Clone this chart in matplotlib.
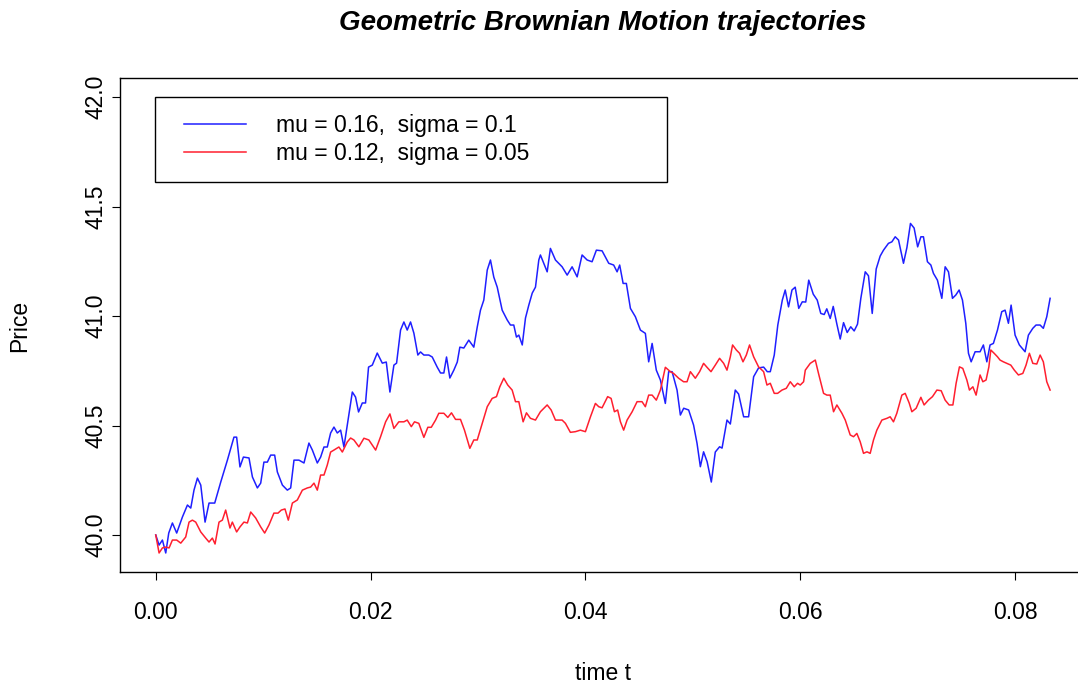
import numpy as np
import matplotlib
matplotlib.use("Agg")
import matplotlib.pyplot as plt
from matplotlib.lines import Line2D
from matplotlib.legend_handler import HandlerLine2D
from matplotlib.ticker import FormatStrFormatter

plt.rcParams['font.family'] = ['Liberation Sans', 'DejaVu Sans']

# trajectory 1: mu = 0.16, sigma = 0.1
t_blue = [0, 0.00031, 0.00062, 0.00093, 0.00121, 0.00155, 0.00195, 0.00248, 0.00295, 0.00326,
          0.00356, 0.00388, 0.00419, 0.00459, 0.00496, 0.00549, 0.00605, 0.00667, 0.00728, 0.00753,
          0.00784, 0.00816, 0.00868, 0.00900, 0.00946, 0.00977, 0.01007, 0.01039, 0.01070, 0.01107,
          0.01132, 0.01179, 0.01225, 0.01256, 0.01287, 0.01333, 0.01380, 0.01426, 0.01458, 0.01504,
          0.01535, 0.01566, 0.01597, 0.01628, 0.01659, 0.01690, 0.01721, 0.01752, 0.01830, 0.01860,
          0.01888, 0.01923, 0.01953, 0.01981, 0.02016, 0.02062, 0.02109, 0.02146, 0.02180, 0.02217,
          0.02242, 0.02279, 0.02310, 0.02341, 0.02372, 0.02403, 0.02440, 0.02465, 0.02496, 0.02542,
          0.02574, 0.02620, 0.02651, 0.02682, 0.02707, 0.02738, 0.02775, 0.02807, 0.02831, 0.02868,
          0.02914, 0.02961, 0.02993, 0.03023, 0.03054, 0.03086, 0.03116, 0.03147, 0.03179, 0.03225,
          0.03272, 0.03302, 0.03333, 0.03358, 0.03380, 0.03412, 0.03442, 0.03473, 0.03505, 0.03535,
          0.03566, 0.03581, 0.03612, 0.03644, 0.03674, 0.03721, 0.03783, 0.03830, 0.03876, 0.03923,
          0.03969, 0.04016, 0.04062, 0.04102, 0.04155, 0.04217, 0.04263, 0.04295, 0.04319, 0.04351,
          0.04381, 0.04419, 0.04465, 0.04512, 0.04558, 0.04589, 0.04621, 0.04660, 0.04698, 0.04744,
          0.04775, 0.04807, 0.04853, 0.04884, 0.04915, 0.04961, 0.05007, 0.05039, 0.05070, 0.05100,
          0.05133, 0.05172, 0.05209, 0.05249, 0.05272, 0.05318, 0.05349, 0.05395, 0.05426, 0.05473,
          0.05519, 0.05566, 0.05612, 0.05659, 0.05693, 0.05721, 0.05758, 0.05791, 0.05833, 0.05860,
          0.05891, 0.05923, 0.05953, 0.05986, 0.06019, 0.06051, 0.06079, 0.06121, 0.06158, 0.06191,
          0.06223, 0.06247, 0.06279, 0.06307, 0.06341, 0.06372, 0.06403, 0.06437, 0.06470, 0.06502,
          0.06533, 0.06564, 0.06605, 0.06635, 0.06670, 0.06707, 0.06744, 0.06775, 0.06821, 0.06853,
          0.06884, 0.06915, 0.06961, 0.06993, 0.07026, 0.07060, 0.07093, 0.07123, 0.07147, 0.07184,
          0.07216, 0.07240, 0.07277, 0.07318, 0.07349, 0.07380, 0.07417, 0.07448, 0.07479, 0.07510,
          0.07541, 0.07566, 0.07591, 0.07628, 0.07674, 0.07705, 0.07737, 0.07767, 0.07798, 0.07836,
          0.07876, 0.07907, 0.07938, 0.07963, 0.08000, 0.08040, 0.08093, 0.08124, 0.08165, 0.08195,
          0.08233, 0.08263, 0.08295, 0.08326]
p_blue = [40.000, 39.954, 39.977, 39.918, 40.009, 40.055, 40.009, 40.082, 40.137, 40.123,
          40.205, 40.260, 40.228, 40.059, 40.146, 40.146, 40.242, 40.342, 40.447, 40.447,
          40.311, 40.356, 40.352, 40.265, 40.215, 40.237, 40.333, 40.333, 40.365, 40.365,
          40.288, 40.228, 40.205, 40.215, 40.342, 40.342, 40.329, 40.420, 40.388, 40.329,
          40.356, 40.402, 40.402, 40.466, 40.493, 40.466, 40.479, 40.402, 40.653, 40.630,
          40.562, 40.603, 40.603, 40.767, 40.776, 40.831, 40.785, 40.790, 40.653, 40.776,
          40.785, 40.936, 40.973, 40.936, 40.973, 40.922, 40.822, 40.836, 40.822, 40.822,
          40.813, 40.767, 40.740, 40.740, 40.813, 40.717, 40.753, 40.790, 40.858, 40.854,
          40.890, 40.858, 40.950, 41.027, 41.073, 41.210, 41.256, 41.178, 41.132, 41.027,
          40.982, 40.959, 40.959, 40.904, 40.913, 40.868, 40.991, 41.050, 41.105, 41.132,
          41.256, 41.279, 41.241, 41.202, 41.309, 41.256, 41.225, 41.187, 41.225, 41.179,
          41.279, 41.256, 41.248, 41.301, 41.298, 41.241, 41.233, 41.202, 41.233, 41.149,
          41.149, 41.035, 40.997, 40.936, 40.921, 40.791, 40.875, 40.753, 40.708, 40.601,
          40.746, 40.746, 40.662, 40.548, 40.579, 40.571, 40.502, 40.419, 40.312, 40.380,
          40.335, 40.242, 40.379, 40.403, 40.397, 40.525, 40.507, 40.662, 40.644, 40.540,
          40.540, 40.723, 40.763, 40.767, 40.746, 40.746, 40.822, 40.959, 41.073, 41.119,
          41.042, 41.119, 41.132, 41.035, 41.065, 41.064, 41.164, 41.100, 41.073, 41.012,
          41.007, 41.033, 40.989, 41.044, 40.963, 40.895, 40.970, 40.925, 40.951, 40.932,
          40.963, 41.081, 41.202, 41.184, 41.012, 41.215, 41.274, 41.301, 41.332, 41.339,
          41.362, 41.347, 41.241, 41.313, 41.423, 41.402, 41.316, 41.362, 41.362, 41.248,
          41.233, 41.195, 41.164, 41.081, 41.225, 41.202, 41.081, 41.096, 41.119, 41.073,
          40.967, 40.830, 40.791, 40.837, 40.837, 40.868, 40.791, 40.868, 40.875, 40.936,
          41.020, 41.027, 40.967, 41.050, 40.913, 40.868, 40.837, 40.913, 40.944, 40.959,
          40.959, 40.944, 40.997, 41.081]

# trajectory 2: mu = 0.12, sigma = 0.05
t_red = [0, 0.00031, 0.00062, 0.00093, 0.00124, 0.00155, 0.00195, 0.00233, 0.00279, 0.00310,
         0.00341, 0.00372, 0.00419, 0.00465, 0.00496, 0.00527, 0.00552, 0.00589, 0.00620, 0.00651,
         0.00691, 0.00713, 0.00753, 0.00784, 0.00821, 0.00853, 0.00884, 0.00930, 0.00977, 0.01014,
         0.01054, 0.01100, 0.01138, 0.01169, 0.01203, 0.01234, 0.01272, 0.01318, 0.01365, 0.01411,
         0.01442, 0.01473, 0.01504, 0.01535, 0.01566, 0.01597, 0.01628, 0.01659, 0.01705, 0.01737,
         0.01783, 0.01814, 0.01845, 0.01891, 0.01938, 0.01984, 0.02047, 0.02093, 0.02140, 0.02180,
         0.02217, 0.02263, 0.02310, 0.02341, 0.02379, 0.02409, 0.02449, 0.02496, 0.02533, 0.02565,
         0.02605, 0.02635, 0.02682, 0.02719, 0.02753, 0.02791, 0.02837, 0.02874, 0.02924, 0.02961,
         0.02993, 0.03039, 0.03086, 0.03132, 0.03172, 0.03203, 0.03240, 0.03277, 0.03318, 0.03349,
         0.03380, 0.03420, 0.03451, 0.03488, 0.03535, 0.03581, 0.03644, 0.03681, 0.03721, 0.03783,
         0.03814, 0.03860, 0.03907, 0.03953, 0.04000, 0.04047, 0.04093, 0.04124, 0.04155, 0.04207,
         0.04239, 0.04270, 0.04300, 0.04326, 0.04356, 0.04388, 0.04435, 0.04481, 0.04527, 0.04558,
         0.04589, 0.04621, 0.04660, 0.04698, 0.04744, 0.04791, 0.04821, 0.04868, 0.04914, 0.04946,
         0.04977, 0.05023, 0.05063, 0.05100, 0.05132, 0.05169, 0.05209, 0.05249, 0.05287, 0.05318,
         0.05349, 0.05370, 0.05405, 0.05435, 0.05467, 0.05498, 0.05528, 0.05566, 0.05612, 0.05659,
         0.05690, 0.05721, 0.05758, 0.05789, 0.05830, 0.05870, 0.05907, 0.05944, 0.05975, 0.06000,
         0.06031, 0.06047, 0.06093, 0.06140, 0.06170, 0.06217, 0.06248, 0.06279, 0.06310, 0.06341,
         0.06388, 0.06419, 0.06465, 0.06496, 0.06527, 0.06558, 0.06589, 0.06621, 0.06651, 0.06682,
         0.06713, 0.06760, 0.06807, 0.06837, 0.06868, 0.06899, 0.06946, 0.06977, 0.07014, 0.07039,
         0.07079, 0.07123, 0.07153, 0.07193, 0.07231, 0.07272, 0.07312, 0.07349, 0.07386, 0.07421,
         0.07451, 0.07482, 0.07513, 0.07551, 0.07575, 0.07607, 0.07637, 0.07674, 0.07700, 0.07730,
         0.07756, 0.07774, 0.07805, 0.07836, 0.07860, 0.07891, 0.07923, 0.07960, 0.07993, 0.08031,
         0.08072, 0.08102, 0.08133, 0.08165, 0.08202, 0.08233, 0.08263, 0.08295, 0.08326]
p_red = [40.000, 39.918, 39.941, 39.945, 39.941, 39.977, 39.977, 39.963, 39.991, 40.059,
         40.068, 40.059, 40.014, 39.986, 39.968, 39.986, 39.959, 40.059, 40.068, 40.114,
         40.032, 40.059, 40.014, 40.037, 40.059, 40.055, 40.105, 40.078, 40.037, 40.009,
         40.046, 40.100, 40.100, 40.114, 40.119, 40.068, 40.146, 40.160, 40.205, 40.215,
         40.219, 40.237, 40.205, 40.274, 40.274, 40.320, 40.379, 40.388, 40.402, 40.379,
         40.425, 40.443, 40.434, 40.403, 40.442, 40.434, 40.388, 40.449, 40.517, 40.553,
         40.487, 40.517, 40.517, 40.525, 40.495, 40.517, 40.510, 40.446, 40.492, 40.492,
         40.525, 40.556, 40.556, 40.537, 40.558, 40.528, 40.528, 40.479, 40.396, 40.434,
         40.434, 40.510, 40.586, 40.624, 40.632, 40.677, 40.716, 40.685, 40.662, 40.609,
         40.609, 40.517, 40.558, 40.533, 40.525, 40.563, 40.594, 40.571, 40.525, 40.525,
         40.510, 40.469, 40.472, 40.479, 40.472, 40.540, 40.601, 40.586, 40.581, 40.632,
         40.624, 40.563, 40.571, 40.517, 40.479, 40.525, 40.563, 40.609, 40.609, 40.586,
         40.639, 40.639, 40.616, 40.662, 40.766, 40.746, 40.738, 40.716, 40.700, 40.700,
         40.746, 40.716, 40.746, 40.784, 40.766, 40.746, 40.776, 40.807, 40.784, 40.753,
         40.814, 40.868, 40.845, 40.830, 40.791, 40.822, 40.868, 40.814, 40.768, 40.746,
         40.685, 40.693, 40.647, 40.647, 40.662, 40.670, 40.700, 40.677, 40.693, 40.685,
         40.700, 40.753, 40.784, 40.799, 40.738, 40.647, 40.639, 40.639, 40.563, 40.594,
         40.556, 40.525, 40.457, 40.449, 40.464, 40.426, 40.373, 40.380, 40.373, 40.434,
         40.479, 40.525, 40.533, 40.540, 40.517, 40.556, 40.639, 40.647, 40.603, 40.563,
         40.579, 40.629, 40.594, 40.616, 40.632, 40.662, 40.659, 40.616, 40.594, 40.594,
         40.693, 40.768, 40.761, 40.708, 40.662, 40.677, 40.639, 40.731, 40.700, 40.708,
         40.768, 40.845, 40.830, 40.814, 40.799, 40.791, 40.784, 40.776, 40.753, 40.731,
         40.738, 40.776, 40.830, 40.784, 40.781, 40.822, 40.791, 40.700, 40.662]

labels = ['mu = 0.16,  sigma = 0.1', 'mu = 0.12,  sigma = 0.05']
x_ticks = [0.00, 0.02, 0.04, 0.06, 0.08]
y_ticks = [40.0, 40.5, 41.0, 41.5, 42.0]

fig = plt.figure(figsize=(10.78, 6.84), dpi=100)
ax = fig.add_axes([0.1113, 0.1637, 0.8968, 0.7222])

ax.plot(t_blue, p_blue, color='#1f1fff', lw=1.1, label=labels[0])
ax.plot(t_red, p_red, color='#ff1f2f', lw=1.1, label=labels[1])

ax.set_xlim(-0.00333, 0.08667)
ax.set_ylim(39.831, 42.087)
ax.set_xticks(x_ticks)
ax.set_yticks(y_ticks)
ax.xaxis.set_major_formatter(FormatStrFormatter('%.2f'))
ax.yaxis.set_major_formatter(FormatStrFormatter('%.1f'))
ax.tick_params(direction='out', length=6, width=0.8, labelsize=16.5, colors='black')
ax.tick_params(axis='x', pad=15)
ax.tick_params(axis='y', pad=3, labelrotation=90)
for lab in ax.get_yticklabels():
    lab.set_va('center')
for sp in ax.spines.values():
    sp.set_linewidth(1.0)
    sp.set_color('black')

fig.text(0.559, 1 - 23 / 684, 'Geometric Brownian Motion trajectories',
         fontsize=20, fontweight='bold', fontstyle='italic', ha='center', va='center')
fig.text(0.559, 1 - 673 / 684, 'time t', fontsize=16.5, ha='center', va='center')
fig.text(20 / 1078, 1 - 326 / 684, 'Price', fontsize=16.5, rotation=90, ha='center', va='center')

leg = ax.legend(loc='upper left', bbox_to_anchor=(0.0362, 0.5, 0.5295, 0.4615), mode='expand',
                borderaxespad=0, fontsize=16.5, handlelength=3.23, handletextpad=1.3,
                borderpad=0.75, labelspacing=0.21, fancybox=False, framealpha=1,
                handler_map={Line2D: HandlerLine2D(xpad=0.53)})
leg.get_frame().set_edgecolor('black')
leg.get_frame().set_linewidth(1.0)

fig.savefig('out.png', dpi=100)
